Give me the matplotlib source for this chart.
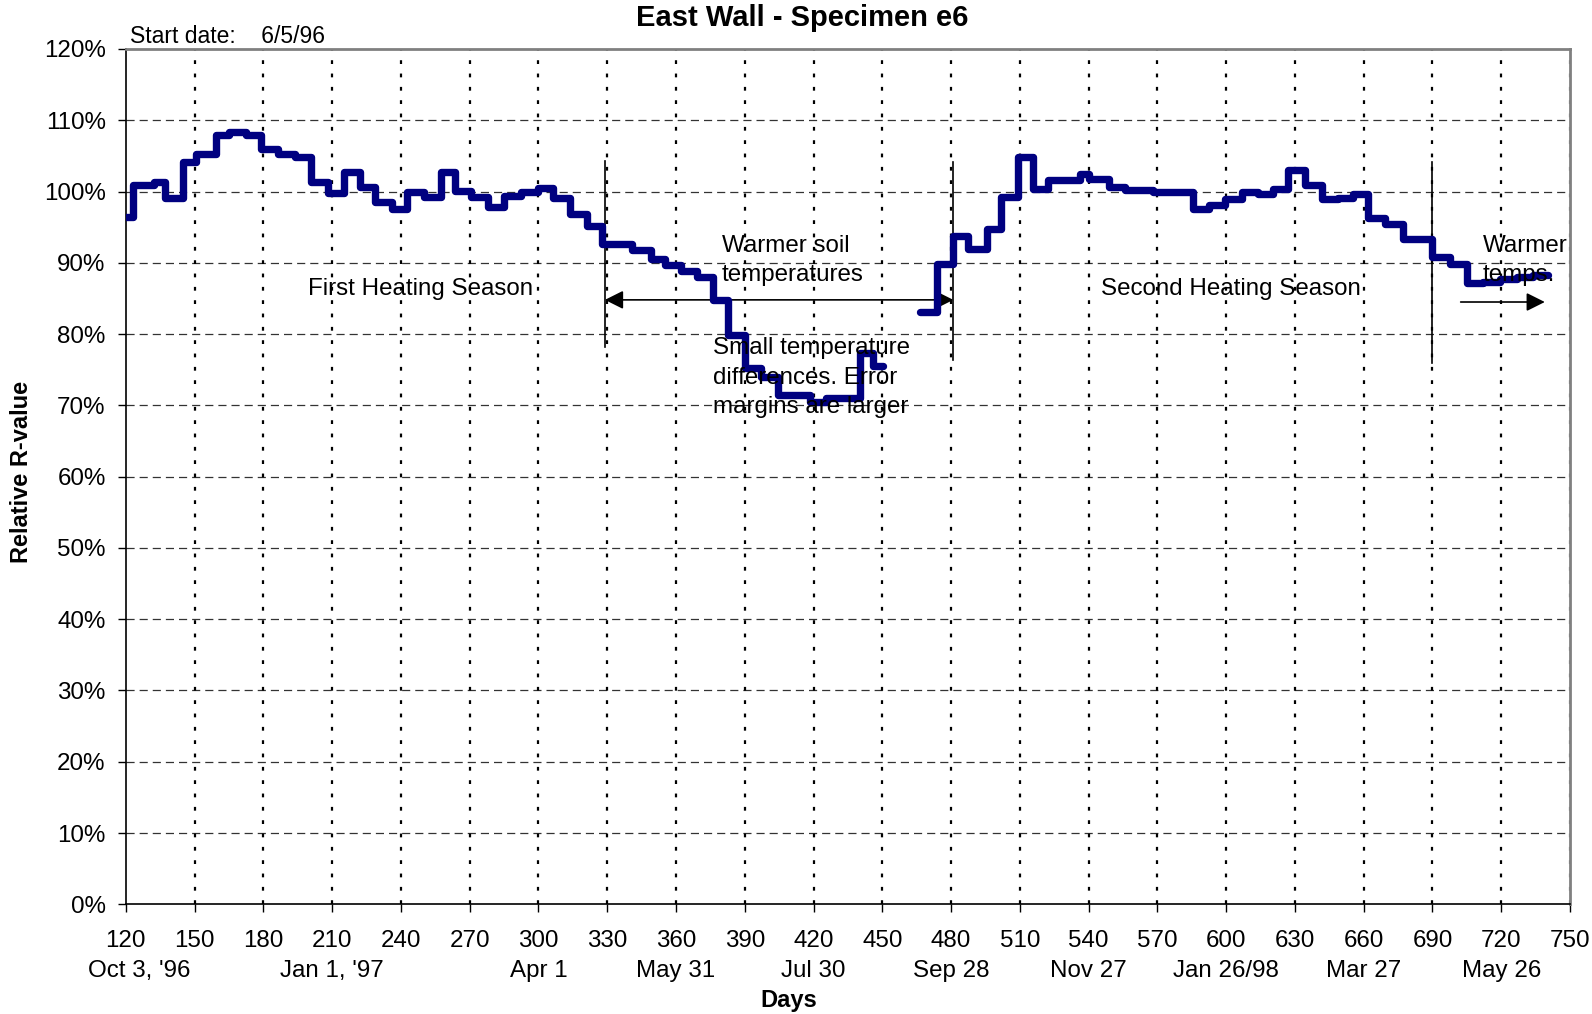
import matplotlib
matplotlib.use("Agg")
import matplotlib.pyplot as plt
import numpy as np

plt.rcParams['font.family'] = ['Liberation Sans', 'DejaVu Sans']

# step data, first run (ends before the gap)
days1 = [120, 123, 132.5, 137, 145, 150.7, 159.5, 165, 172.6, 179, 186.5, 193.8,
         201, 208.4, 215, 222.3, 228.8, 236, 242.7, 250, 257.5, 263.4, 270.7, 278,
         285, 292.6, 300, 306.4, 313.7, 321, 327.6, 341, 349, 355, 362, 369, 376,
         382.6, 390, 397, 404.5, 418.3, 425.6, 440.2, 446, 450.5]
vals1 = [96.4, 100.9, 101.4, 99.1, 104.1, 105.2, 108.0, 108.3, 108.0, 106.0, 105.3,
         104.8, 101.3, 99.8, 102.7, 100.7, 98.5, 97.5, 100.0, 99.2, 102.7, 100.1,
         99.2, 97.8, 99.4, 100.0, 100.5, 99.1, 96.8, 95.1, 92.7, 91.8, 90.5, 89.7,
         88.9, 88.0, 84.8, 79.9, 75.3, 74.0, 71.5, 70.5, 71.1, 77.3, 75.5, 75.5]

# second run
days2 = [466.5, 473.7, 481, 487.6, 495.6, 502, 509.4, 515.6, 522.5, 536.3, 540,
         549, 556, 568, 585.7, 592.3, 599.6, 606.8, 614, 620.6, 627, 634.4, 641.7,
         649, 655.5, 662, 669.3, 677.3, 689.6, 697.6, 705, 712, 719.4, 726.7, 734,
         740.5]
vals2 = [83.1, 89.9, 93.8, 92.0, 94.8, 99.2, 104.8, 100.3, 101.6, 102.4, 101.8,
         100.6, 100.2, 99.9, 97.6, 98.1, 99.0, 100.0, 99.6, 100.4, 103.0, 100.9,
         98.9, 99.1, 99.7, 96.3, 95.4, 93.3, 90.8, 89.8, 87.1, 87.3, 87.7, 88.0,
         88.3, 88.3]

xticks = list(range(120, 751, 30))
date_days = [120, 210, 300, 360, 420, 480, 540, 600, 660, 720]
date_labels = ["Oct 3, '96", "Jan 1, '97", "Apr 1", "May 31", "Jul 30",
               "Sep 28", "Nov 27", "Jan 26/98", "Mar 27", "May 26"]
season_marks = [329, 481, 690]

fig = plt.figure(figsize=(15.92, 10.14), dpi=100)
ax = fig.add_axes([0.0790, 0.1082, 0.9072, 0.8435])

ax.set_xlim(120, 750)
ax.set_ylim(0, 120)

# grid
for y in range(10, 120, 10):
    ax.axhline(y, color='#333333', lw=0.9, dashes=(6.5, 4), zorder=1)
for x in xticks[1:-1]:
    ax.axvline(x, color='black', lw=1.6, dashes=(1.7, 4.3), zorder=1)
ax.axvline(750, color='#808080', lw=1.6, dashes=(1.7, 4.3), zorder=1)

ax.step(days1, vals1, where='post', color='#000080', lw=5.3,
        solid_joinstyle='round', solid_capstyle='round', zorder=3)
ax.step(days2, vals2, where='post', color='#000080', lw=5.3,
        solid_joinstyle='round', solid_capstyle='round', zorder=3)

# season boundaries and arrows
ax.plot([season_marks[0]] * 2, [78.2, 104.3], color='black', lw=1.2, zorder=2)
ax.plot([season_marks[1]] * 2, [76.3, 104.2], color='black', lw=1.2, zorder=2)
ax.plot([season_marks[2]] * 2, [76.0, 104.2], color='black', lw=1.2, zorder=2)

ax.annotate('', xy=(season_marks[0], 84.8), xytext=(season_marks[1], 84.8),
            arrowprops=dict(arrowstyle='<|-|>', color='black', lw=1.2,
                            mutation_scale=28, shrinkA=0, shrinkB=0), zorder=2)
ax.annotate('', xy=(739, 84.5), xytext=(702.3, 84.5),
            arrowprops=dict(arrowstyle='-|>', color='black', lw=1.2,
                            mutation_scale=28, shrinkA=0, shrinkB=0), zorder=2)

fs = 17.4
ax.text(248.6, 86.3, 'First Heating Season', ha='center', va='center', fontsize=fs, zorder=4)
ax.text(601.9, 86.3, 'Second Heating Season', ha='center', va='center', fontsize=fs, zorder=4)
ax.text(379.9, 92.3, 'Warmer soil', ha='left', va='center', fontsize=fs, zorder=4)
ax.text(379.9, 88.3, 'temperatures', ha='left', va='center', fontsize=fs, zorder=4)
ax.text(376.3, 78.0, 'Small temperature', ha='left', va='center', fontsize=fs, zorder=4)
ax.text(376.3, 73.9, 'differences. Error', ha='left', va='center', fontsize=fs, zorder=4)
ax.text(376.3, 69.8, 'margins are larger', ha='left', va='center', fontsize=fs, zorder=4)
ax.text(711.8, 92.3, 'Warmer', ha='left', va='center', fontsize=fs, zorder=4)
ax.text(711.8, 88.3, 'temps.', ha='left', va='center', fontsize=fs, zorder=4)

# axes styling
ax.set_xticks(xticks)
ax.set_xticklabels([str(t) for t in xticks])
ax.set_yticks(range(0, 121, 10))
ax.set_yticklabels([f'{v}%' for v in range(0, 121, 10)])
ax.tick_params(axis='both', labelsize=fs, length=5.5, width=1.0, direction='out')
ax.tick_params(axis='x', pad=13)
ax.tick_params(axis='y', pad=9)
for s in ['left', 'bottom']:
    ax.spines[s].set_color('black')
    ax.spines[s].set_linewidth(1.2)
for s in ['top', 'right']:
    ax.spines[s].set_color('#808080')
    ax.spines[s].set_linewidth(2)

tr = ax.get_xaxis_transform()
for d, lab in zip(date_days, date_labels):
    xoff = 6 if d == 120 else 0
    ax.text(d + xoff, -0.0775, lab, transform=tr, ha='center', va='center', fontsize=fs)

fig.text(0.504, 0.9745, 'East Wall - Specimen e6', ha='center', va='baseline',
         fontsize=21, fontweight='bold')
fig.text(0.0817, 0.9573, 'Start date:    6/5/96', ha='left', va='baseline', fontsize=16.5)
fig.text(0.0138, 0.535, 'Relative R-value', rotation=90, ha='center', va='center',
         fontsize=17, fontweight='bold')
fig.text(0.4955, 0.0135, 'Days', ha='center', va='center', fontsize=17, fontweight='bold')

fig.savefig('out.png', dpi=100)
